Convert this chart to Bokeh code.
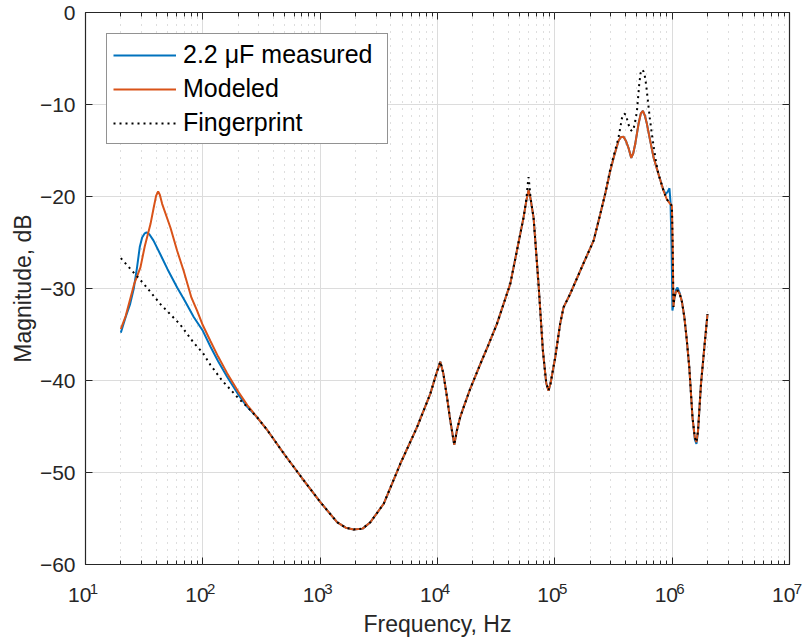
from bokeh.plotting import figure
from bokeh.models import (Range1d, FixedTicker, LogAxis, LinearAxis, Legend, LegendItem,
                          CustomJSTickFormatter)
from bokeh.embed import file_html
from bokeh.resources import INLINE

# ---------------- data ----------------
# low-frequency parts, Hz / dB
f_low_meas = [20, 22, 24, 25.8, 27.5, 29, 30.4, 32, 33.1, 35, 38, 43.5, 50, 60.4, 70, 83.6, 100, 116, 135, 161, 200, 240]
db_low_meas = [-34.8, -33.1, -31.7, -30.0, -27.7, -25.5, -24.45, -24.0, -23.9, -24.1, -24.8, -26.3, -27.9, -29.9,
               -31.3, -33.1, -34.6, -36.3, -37.9, -39.6, -41.5, -42.9]

f_low_model = [20, 22, 24.2, 26, 29.4, 32, 35.8, 38, 40, 41.6, 43, 45, 53, 60.4, 68.7, 80, 89.3, 100, 116, 135, 161, 200, 240]
db_low_model = [-34.4, -33.0, -31.0, -29.5, -27.7, -25.4, -23.0, -21.3, -19.9, -19.46, -19.8, -20.8, -23.4, -25.9,
                -28.1, -31.0, -32.4, -34.0, -35.7, -37.4, -39.2, -41.2, -42.7]

f_low_fp = [20, 31.4, 43.5, 64, 83.6, 100, 116, 146, 200, 240]
db_low_fp = [-26.7, -29.5, -31.7, -33.9, -35.9, -37.0, -38.3, -40.0, -41.9, -42.9]

# shared body where all three curves coincide
f_body = [290, 350, 500, 700, 1000, 1393, 1650, 1928, 2300, 2680, 3478, 4820, 6680, 8680, 9700, 10570, 11200,
          12050, 12850, 13900, 14650, 15600, 16700, 19000, 23200, 27000, 32100, 41700, 47500, 54100, 57300, 59700,
          62000, 65900, 72600, 79100, 84500, 88300, 92000, 100700, 111000, 118600, 135000, 175000, 214000, 244000,
          270000, 297000, 320000, 349000, 365000, 385000, 405000, 424000, 448000, 466000, 484000, 517000, 540000,
          563000, 585000, 609000, 650000, 694000, 764000]
db_body = [-44.0, -45.3, -48.1, -50.6, -53.2, -55.4, -56.0, -56.2, -56.1, -55.4, -53.4, -49.05, -45.1, -41.45,
           -39.4, -37.95, -39.2, -41.8, -44.35, -47.0, -45.4, -44.0, -42.9, -40.9, -38.2, -36.2, -33.85, -29.5,
           -25.9, -22.3, -20.4, -19.3, -20.2, -22.3, -29.5, -36.75, -40.3, -41.1, -40.3, -37.5, -33.85, -32.05,
           -30.6, -27.3, -24.8, -21.9, -19.6, -17.2, -15.6, -13.95, -13.55, -13.5, -14.0, -14.7, -15.8, -15.3,
           -14.3, -12.1, -11.0, -10.7, -11.2, -12.1, -13.95, -15.75, -17.55]

# high-frequency tails
f_high_meas = [843000, 880000, 915000, 948000, 968000, 990000, 1005000, 1040000, 1075000, 1110000, 1160000,
               1210000, 1270000, 1330000, 1400000, 1490000, 1560000, 1610000, 1660000, 1760000, 1880000, 2000000]
db_high_meas = [-19.3, -19.75, -19.5, -19.1, -20.6, -26.0, -32.4, -31.2, -30.2, -29.9, -30.5, -31.4, -33.1,
                -35.5, -38.6, -44.0, -46.4, -46.9, -45.6, -40.4, -36.4, -32.8]

f_high_model = [843000, 900000, 961000, 995000, 1010000, 1025000, 1045000, 1075000, 1110000, 1160000, 1210000,
                1270000, 1330000, 1400000, 1490000, 1560000, 1610000, 1660000, 1760000, 1880000, 2000000]
db_high_model = [-19.35, -20.3, -20.8, -21.0, -25.0, -32.0, -31.0, -30.4, -30.2, -30.6, -31.4, -33.1, -35.5,
                 -38.6, -44.0, -46.2, -46.7, -45.5, -40.4, -36.4, -32.8]

# fingerprint departures from the shared body
f_fp_peak1 = [57300, 58600, 59700, 60800, 62000]
db_fp_peak1 = [-20.2, -18.8, -17.9, -18.8, -20.1]
f_fp_peak2 = [297000, 320000, 349000, 373000, 390000, 404000, 420000, 439000, 455000, 468000, 485000, 501000,
              513000, 524000, 538000, 552000, 570000, 589000, 603000, 617000, 645000, 671000, 700000, 730000, 764000]
db_fp_peak2 = [-17.0, -15.4, -13.6, -11.5, -11.0, -11.1, -12.0, -12.7, -12.9, -12.7, -11.8, -10.7, -9.2, -7.8,
               -6.6, -6.2, -6.4, -7.1, -8.1, -9.25, -11.5, -13.2, -14.8, -16.3, -17.55]

series_labels = ["2.2 \u03bcF measured", "Modeled", "Fingerprint"]
x_tick_values = [10, 100, 1000, 10000, 100000, 1000000, 10000000]
x_tick_base = "10"
x_tick_exponents = ["1", "2", "3", "4", "5", "6", "7"]
y_tick_values = [-60, -50, -40, -30, -20, -10, 0]

# ---------------- assemble series ----------------
f_meas = f_low_meas + f_body + f_high_meas
db_meas = db_low_meas + db_body + db_high_meas
f_model = f_low_model + f_body + f_high_model
db_model = db_low_model + db_body + db_high_model

fp_pts = [(f, d) for f, d in zip(f_body, db_body)
          if not (57000 <= f <= 62500 or 297000 <= f <= 764000)]
fp_pts += list(zip(f_fp_peak1, db_fp_peak1)) + list(zip(f_fp_peak2, db_fp_peak2))
fp_pts.sort()
f_fp = f_low_fp + [a for a, b in fp_pts] + f_high_model
db_fp = db_low_fp + [b for a, b in fp_pts] + db_high_model

# ---------------- figure ----------------
FONT = "Liberation Sans"
INK = "#262626"
FSP = "\u2007"  # figure space (digit width) used to shift the base / exponent of 10^n sideways

p = figure(width=808, height=644, x_axis_type="log",
           x_range=Range1d(10, 1e7), y_range=Range1d(-60, 0),
           output_backend="svg", toolbar_location=None,
           min_border_left=85, min_border_right=19, min_border_top=12, min_border_bottom=80)
p.background_fill_color = "white"
p.border_fill_color = "white"
p.outline_line_color = INK
p.outline_line_width = 1.2

minor = [m * d for d in x_tick_values[:-1] for m in range(2, 10)]
xticker = FixedTicker(ticks=x_tick_values, minor_ticks=minor)
yticker = FixedTicker(ticks=y_tick_values, minor_ticks=[])

xa = p.xaxis[0]   # nearest axis: ticks + exponents
ya = p.yaxis[0]
xa.ticker = xticker
ya.ticker = yticker
p.xgrid.ticker = xticker
p.ygrid.ticker = yticker

for ax in (xa, ya):
    ax.axis_line_color = None
    ax.major_tick_in = 7
    ax.major_tick_out = 0
    ax.minor_tick_in = 4
    ax.minor_tick_out = 0
    ax.major_tick_line_color = INK
    ax.minor_tick_line_color = INK
    ax.major_label_text_font = FONT
    ax.major_label_text_color = INK
    ax.axis_label_text_font = FONT
    ax.axis_label_text_font_size = "23px"
    ax.axis_label_text_font_style = "normal"
    ax.axis_label_text_color = INK
ya.minor_tick_line_color = None
ya.major_label_text_font_size = "21px"
ya.axis_label = "Magnitude, dB"
ya.major_label_standoff = 10
ya.axis_label_standoff = 1

# exponents (superscript part of 10^n), shifted right by two figure spaces
xa.major_label_overrides = {v: FSP + FSP + e for v, e in zip(x_tick_values, x_tick_exponents)}
xa.major_label_text_font_size = "15px"
xa.major_label_standoff = 15

# base "10" of the decade labels, on a second axis drawn over the same band
xbase = LogAxis(ticker=xticker, axis_line_color=None,
                major_tick_in=0, major_tick_out=0, minor_tick_in=0, minor_tick_out=0,
                major_tick_line_color=None, minor_tick_line_color=None,
                major_label_overrides={v: x_tick_base + FSP for v in x_tick_values},
                major_label_text_font=FONT, major_label_text_font_size="21px",
                major_label_text_color=INK, major_label_standoff=-17,
                axis_label="Frequency, Hz", axis_label_text_font=FONT, axis_label_text_font_size="23px",
                axis_label_text_font_style="normal", axis_label_text_color=INK, axis_label_standoff=2)
p.add_layout(xbase, "below")

blank = CustomJSTickFormatter(code="return ''")
top = LogAxis(ticker=xticker, formatter=blank, axis_line_color=None,
              major_tick_in=7, major_tick_out=0, minor_tick_in=4, minor_tick_out=0,
              major_tick_line_color=INK, minor_tick_line_color=INK, major_label_standoff=0)
right = LinearAxis(ticker=yticker, formatter=blank, axis_line_color=None,
                   major_tick_in=7, major_tick_out=0, minor_tick_line_color=None,
                   major_tick_line_color=INK, major_label_standoff=0)
p.add_layout(top, "above")
p.add_layout(right, "right")

p.xgrid.grid_line_color = "#dcdcdc"
p.xgrid.minor_grid_line_color = "#bcbcbc"
p.xgrid.minor_grid_line_dash = "1 6"
p.ygrid.grid_line_color = "#dcdcdc"
p.ygrid.minor_grid_line_color = None

r1 = p.line(f_meas, db_meas, line_color="#0072BD", line_width=2)
r2 = p.line(f_model, db_model, line_color="#D95319", line_width=2)
r3 = p.line(f_fp, db_fp, line_color="black", line_width=2, line_dash="2 4")

legend = Legend(items=[LegendItem(label=series_labels[0], renderers=[r1]),
                       LegendItem(label=series_labels[1], renderers=[r2]),
                       LegendItem(label=series_labels[2], renderers=[r3])],
                location="top_left", margin=21, padding=6, spacing=5,
                glyph_width=63, glyph_height=28, label_standoff=7,
                label_width=198, label_height=28,
                label_text_font=FONT, label_text_font_size="25px", label_text_color="black",
                border_line_color=INK, border_line_width=1, background_fill_alpha=1)
p.add_layout(legend)

open("out.html", "w").write(file_html(p, INLINE))
